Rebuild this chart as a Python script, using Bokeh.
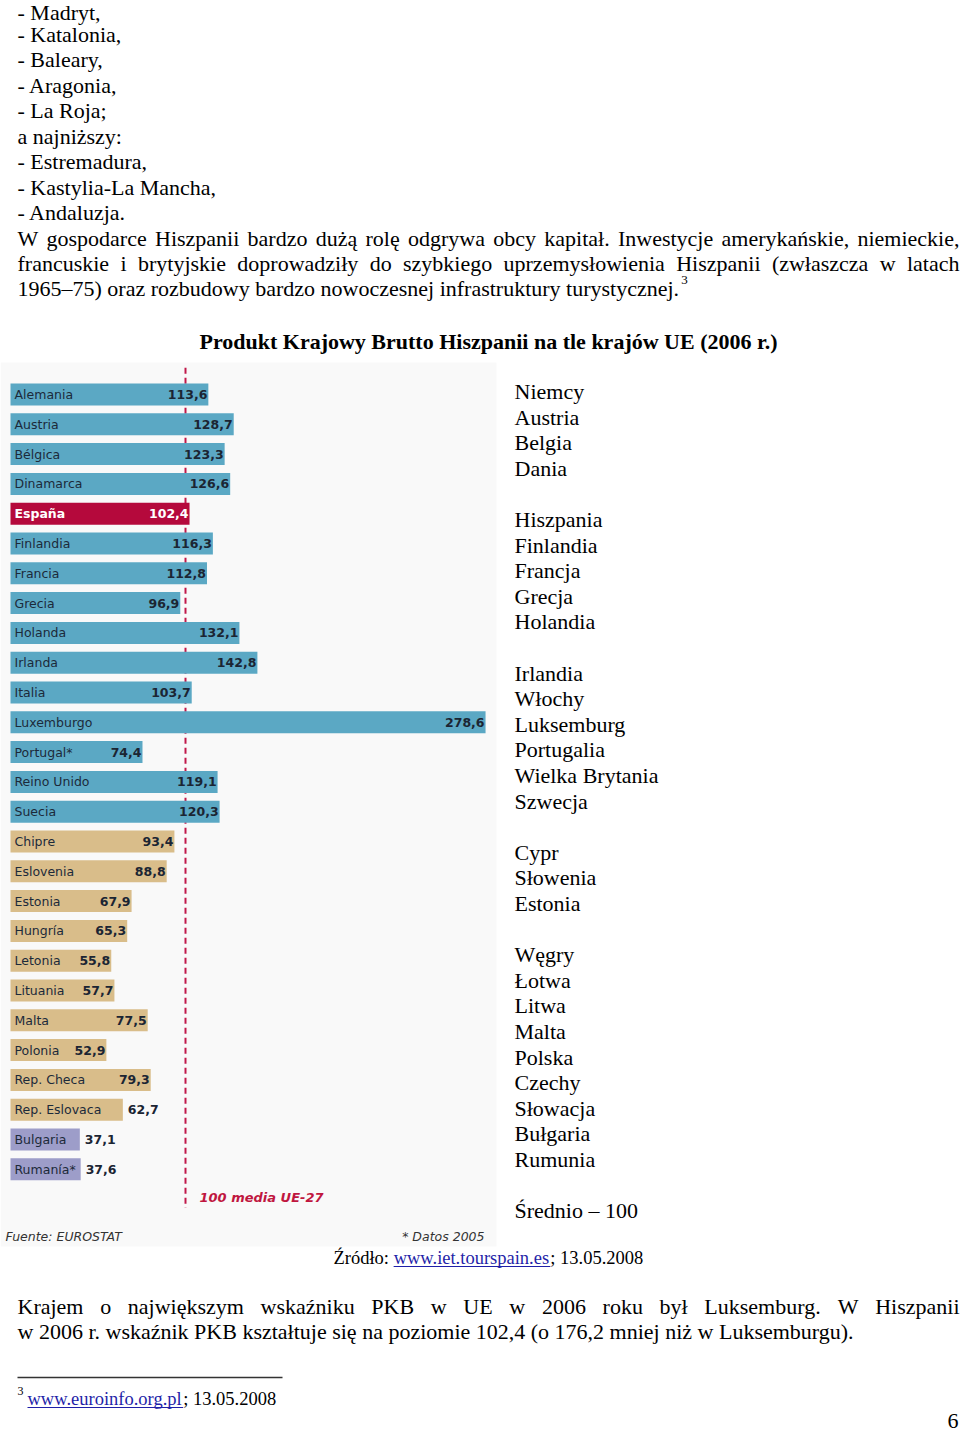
from bokeh.plotting import figure
from bokeh.models import Range1d, ColumnDataSource, BoxAnnotation
from bokeh.embed import file_html
from bokeh.resources import INLINE
from bokeh.core.properties import value

# ---------------- data ----------------
countries = ["Alemania", "Austria", "Bélgica", "Dinamarca", "España", "Finlandia",
             "Francia", "Grecia", "Holanda", "Irlanda", "Italia", "Luxemburgo",
             "Portugal*", "Reino Unido", "Suecia", "Chipre", "Eslovenia", "Estonia",
             "Hungría", "Letonia", "Lituania", "Malta", "Polonia", "Rep. Checa",
             "Rep. Eslovaca", "Bulgaria", "Rumanía*"]
gdp = [113.6, 128.7, 123.3, 126.6, 102.4, 116.3, 112.8, 96.9, 132.1, 142.8, 103.7,
       278.6, 74.4, 119.1, 120.3, 93.4, 88.8, 67.9, 65.3, 55.8, 57.7, 77.5, 52.9,
       79.3, 62.7, 37.1, 37.6]
groups = ["eu15"] * 15 + ["new10"] * 10 + ["new2"] * 2
highlight = "España"
pl_names = ["Niemcy", "Austria", "Belgia", "Dania", "", "Hiszpania", "Finlandia",
            "Francja", "Grecja", "Holandia", "", "Irlandia", "Włochy", "Luksemburg",
            "Portugalia", "Wielka Brytania", "Szwecja", "", "Cypr", "Słowenia",
            "Estonia", "", "Węgry", "Łotwa", "Litwa", "Malta", "Polska", "Czechy",
            "Słowacja", "Bułgaria", "Rumunia", "", "Średnio – 100"]
EU_AVG = 100

top_lines = ["- Madryt,", "- Katalonia,", "- Baleary,", "- Aragonia,", "- La Roja;",
             "a najniższy:", "- Estremadura,", "- Kastylia-La Mancha,", "- Andaluzja."]
par1 = ["W gospodarce Hiszpanii bardzo dużą rolę odgrywa obcy kapitał. Inwestycje amerykańskie, niemieckie,",
        "francuskie i brytyjskie doprowadziły do szybkiego uprzemysłowienia Hiszpanii (zwłaszcza w latach",
        "1965–75) oraz rozbudowy bardzo nowoczesnej infrastruktury turystycznej."]
par2 = ["Krajem o największym wskaźniku PKB w UE w 2006 roku był Luksemburg. W Hiszpanii",
        "w 2006 r. wskaźnik PKB kształtuje się na poziomie 102,4 (o 176,2 mniej niż w Luksemburgu)."]
title = "Produkt Krajowy Brutto Hiszpanii na tle krajów UE (2006 r.)"

# ---------------- styles ----------------
W, H = 960, 1431
SERIF = value("Liberation Serif")
SANS = value("DejaVu Sans")
COLORS = {"eu15": "#5ba8c4", "new10": "#d9bd8a", "new2": "#9d9dc9"}
HL_COLOR = "#b5093c"
ZERO_X, PX = 17.0, 1.68          # screen x of value 0, pixels per unit
ROW0, STEP = 394.0, 29.8          # screen y of first row, row step
BAR_LEFT = -7.0 / PX

# Times widths (1/1000 em)
TW = {' ': 250, ',': 250, '.': 250, '-': 333, '–': 500, '(': 333, ')': 333, ':': 278, ';': 278}
TW.update({d: 500 for d in "0123456789"})
TW.update(dict(zip("abcdefghijklmnopqrstuvwxyz",
                   [444, 500, 444, 500, 444, 333, 500, 500, 278, 278, 500, 278, 778, 500, 500,
                    500, 500, 333, 389, 278, 500, 500, 722, 500, 500, 444])))
TW.update(dict(zip("ABCDEFGHIJKLMNOPQRSTUVWXYZ",
                   [722, 667, 667, 722, 611, 556, 722, 722, 333, 389, 722, 611, 889, 722, 722,
                    556, 722, 667, 556, 611, 722, 722, 944, 722, 722, 611])))
TW.update({'ą': 444, 'ę': 444, 'ó': 500, 'ś': 389, 'ż': 444, 'ź': 444, 'ł': 278, 'ń': 500,
           'ć': 444, 'Ł': 611, 'Ś': 556, 'Ż': 611, 'Ź': 611})


def tw(s, size):
    return sum(TW.get(c, 500) for c in s) / 1000.0 * size


p = figure(width=W, height=H, x_range=Range1d(0, W), y_range=Range1d(H, 0),
           output_backend="svg", toolbar_location=None, min_border=0,
           x_axis_location=None, y_axis_location=None)
p.grid.visible = False
p.outline_line_color = None
p.extra_x_ranges = {"val": Range1d((0 - ZERO_X) / PX, (W - ZERO_X) / PX)}
p.extra_y_ranges = {"row": Range1d((H - ROW0) / STEP, (0 - ROW0) / STEP)}


def txt(x, y, s, size="22px", font=SERIF, align="left", color="black", style="normal",
        baseline="alphabetic"):
    p.text(x=[x], y=[y], text=[s], text_font=font, text_font_size=size, text_align=align,
           text_baseline=baseline, text_color=color, text_font_style=style)


def justify(line, y, x0=17, x1=959, size=22):
    words = line.split(" ")
    ws = [tw(w, size) for w in words]
    gap = (x1 - x0 - sum(ws)) / (len(words) - 1)
    xs, x = [], x0
    for w in ws:
        xs.append(x)
        x += w + gap
    p.text(x=xs, y=[y] * len(words), text=words, text_font=SERIF, text_font_size=f"{size}px",
           text_baseline="alphabetic", text_color="black")


# ---------------- body text ----------------
LH = 25.45
T0 = 8.5
for k, s in enumerate(top_lines):
    txt(17, T0 + LH * k + (3 if k == 0 else 0), s)
b = T0 + LH * 9
justify(par1[0], b)
justify(par1[1], b + LH)
txt(17, b + 2 * LH, par1[2])
txt(17 + tw(par1[2], 22) + 2, b + 2 * LH - 9, "3", size="13px")

txt(488, 341, title, align="center", style="bold")

# chart background
p.add_layout(BoxAnnotation(left=0, right=496, top=362, bottom=1246, fill_color="#f9f9f9",
                           fill_alpha=1, line_color=None, level="underlay"))

# EU average line (behind the bars)
p.segment(x0=[EU_AVG], y0=[-0.9], x1=[EU_AVG], y1=[27.3], line_color="#c0184a", line_width=2,
          line_dash="6 4", x_range_name="val", y_range_name="row")

# ---------------- bars ----------------
idx = list(range(len(countries)))
labels = [f"{v:.1f}".replace(".", ",") for v in gdp]
cols = [HL_COLOR if c == highlight else COLORS[g] for c, g in zip(countries, groups)]
src = ColumnDataSource(dict(y=idx, v=gdp, c=cols, name=countries, lab=labels))
p.hbar(y="y", left=BAR_LEFT, right="v", height=22 / STEP, fill_color="c", line_color=None,
       source=src, x_range_name="val", y_range_name="row")


def fits(i):
    # does name + value fit inside the bar (approximate sans widths)
    need = 7.3 * len(countries[i]) + 7.5 * len(labels[i]) + 10
    return need < (gdp[i] - BAR_LEFT) * PX


def sub(cond):
    ii = [i for i in idx if cond(i)]
    return ColumnDataSource(dict(y=ii, v=[gdp[i] for i in ii], name=[countries[i] for i in ii],
                                 lab=[labels[i] for i in ii]))


normal = sub(lambda i: countries[i] != highlight)
hl = sub(lambda i: countries[i] == highlight)
inside = sub(lambda i: fits(i) and countries[i] != highlight)
outside = sub(lambda i: not fits(i))

common = dict(text_font=SANS, text_font_size="12.5px", text_baseline="middle",
              x_range_name="val", y_range_name="row")
p.text(x=BAR_LEFT, y="y", text="name", source=normal, x_offset=4, text_color="#1c2a3a", **common)
p.text(x=BAR_LEFT, y="y", text="name", source=hl, x_offset=4, text_color="white",
       text_font_style="bold", **common)
p.text(x="v", y="y", text="lab", source=inside, x_offset=-1, text_align="right",
       text_color="#1b2533", text_font_style="bold", **common)
p.text(x="v", y="y", text="lab", source=hl, x_offset=-1, text_align="right",
       text_color="white", text_font_style="bold", **common)
p.text(x="v", y="y", text="lab", source=outside, x_offset=5, text_align="left",
       text_color="#1b2533", text_font_style="bold", **common)

p.text(x=[EU_AVG], y=[26.93], text=["100 media UE-27"], x_offset=14, text_font=SANS,
       text_font_size="13px", text_font_style="bold italic", text_color="#c0163f",
       text_baseline="middle", x_range_name="val", y_range_name="row")

txt(5, 1236, "Fuente: EUROSTAT", size="12.5px", font=SANS, style="italic", color="#333333")
txt(484, 1236, "* Datos 2005", size="12.5px", font=SANS, style="italic", color="#333333",
    align="right")

# Polish names
for k, s in enumerate(pl_names):
    if s:
        txt(514, 391 + 25.6 * k, s)

# source line
FS = 18.5
x0 = 333
parts = ["Źródło: ", "www.iet.tourspain.es", "; 13.05.2008"]
xa = x0 + tw(parts[0], FS)
xb = xa + tw(parts[1], FS)
yb = 1257
txt(x0, yb, parts[0], size=f"{FS}px")
txt(xa, yb, parts[1], size=f"{FS}px", color="#1f1fa8")
txt(xb, yb, parts[2], size=f"{FS}px")
p.segment(x0=[xa], y0=[yb + 9], x1=[xb], y1=[yb + 9], line_color="#1f1fa8", line_width=1)

# bottom paragraph
justify(par2[0], 1306)
txt(17, 1331, par2[1])

# footnote
p.segment(x0=[17], y0=[1377], x1=[282], y1=[1377], line_color="#333333", line_width=1.5)
txt(17, 1390, "3", size="12px")
fx = 27
fl = "www.euroinfo.org.pl"
txt(fx, 1398, fl, size=f"{FS}px", color="#1f1fa8")
fe = fx + tw(fl, FS)
p.segment(x0=[fx], y0=[1407], x1=[fe], y1=[1407], line_color="#1f1fa8", line_width=1)
txt(fe, 1398, "; 13.05.2008", size=f"{FS}px")

txt(958, 1420, "6", align="right")

open("out.html", "w").write(file_html(p, INLINE))
